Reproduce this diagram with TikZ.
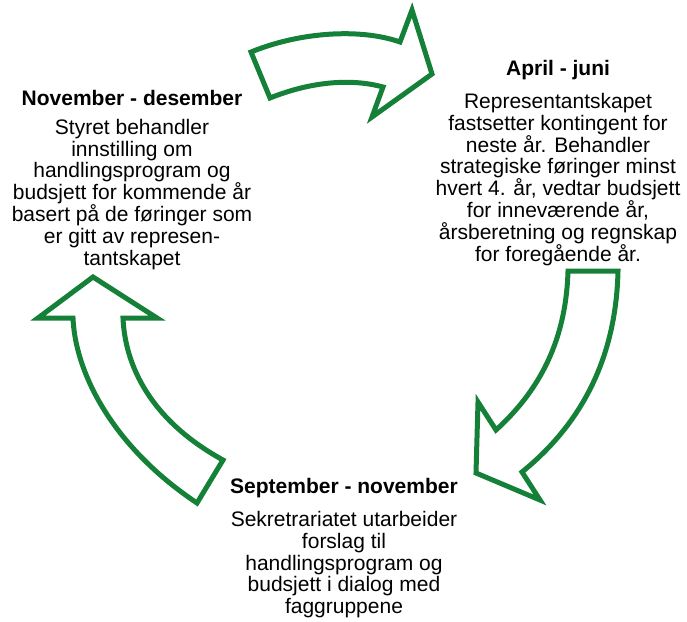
\documentclass[tikz,border=0pt]{standalone}
\usepackage{fontspec}
\setmainfont{Liberation Sans}
\usetikzlibrary{positioning}
\definecolor{arrowgreen}{RGB}{20,128,56}
\tikzset{bigarrow/.style={draw=arrowgreen,line width=5pt,line join=miter},
  period/.style={font=\fontsize{21}{21.8}\selectfont\bfseries,inner sep=0pt},
  task/.style={font=\fontsize{21}{21.8}\selectfont,align=center,inner sep=0pt}}

\begin{document}
\begin{tikzpicture}[x=1pt,y=-1pt,line cap=round]
  \useasboundingbox (0,0) rectangle (687,621);

  % arrows of the year cycle
  \draw [bigarrow] (251,52) .. controls (300,32) and (360,28) .. (400,42)
    -- (412,10) -- (432,74) -- (372,117) -- (383,87)
    .. controls (350,78) and (310,82) .. (270,98) -- cycle;

  \draw [bigarrow] (568,271) -- (618,271)
    .. controls (616,360) and (580,425) .. (522,472)
    -- (540,500) -- (476,473) -- (478,402) -- (496,430)
    .. controls (540,390) and (566,340) .. (568,271) -- cycle;

  \draw [bigarrow] (93,277) -- (157,318) -- (123,318)
    .. controls (125,365) and (150,420) .. (223,460)
    -- (197,503)
    .. controls (110,445) and (75,370) .. (73,318)
    -- (38,318) -- cycle;

  % periods
  \node [period] (nov) at (132,98) {November - desember};
  \node [task,below=13pt of nov] (novtxt) {Styret behandler\\innstilling om\\handlingsprogram og\\budsjett for kommende år\\basert på de føringer som\\er gitt av represen-\\tantskapet};

  \node [period] (apr) at (558,70) {April - juni};
  \node [task,below=13pt of apr] (aprtxt) {Representantskapet\\fastsetter kontingent for\\neste år. Behandler\\strategiske føringer minst\\hvert 4. år, vedtar budsjett\\for inneværende år,\\årsberetning og regnskap\\for foregående år.};

  \node [period] (sep) at (344,488) {September - november};
  \node [task,below=13pt of sep] (septxt) {Sekretrariatet utarbeider\\forslag til\\handlingsprogram og\\budsjett i dialog med\\faggruppene};

\end{tikzpicture}
\end{document}
